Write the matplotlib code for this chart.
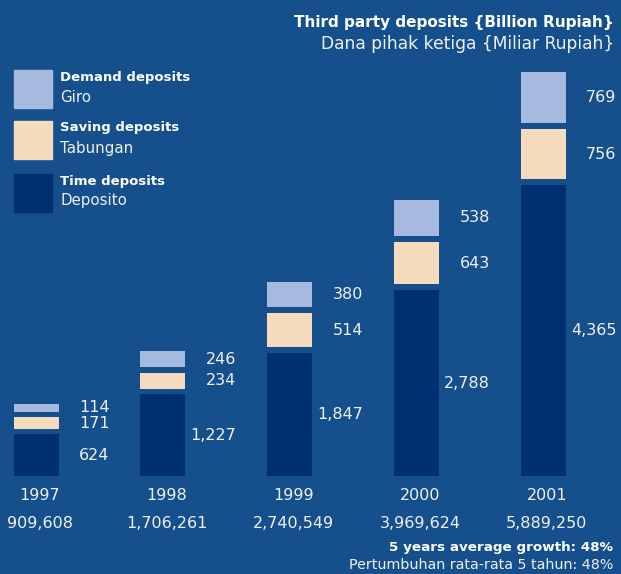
import matplotlib.pyplot as plt
from matplotlib.patches import Rectangle

# ── Data ───────────────────────────────────────────────────────
years    = ["1997", "1998", "1999", "2000", "2001"]
totals   = ["909,608", "1,706,261", "2,740,549", "3,969,624", "5,889,250"]
time_dep = [624, 1227, 1847, 2788, 4365]
saving   = [171, 234, 514, 643, 756]
demand   = [114, 246, 380, 538, 769]

# ── Style ──────────────────────────────────────────────────────
BG      = "#15508d"
C_TIME  = "#00306f"
C_SAVE  = "#f5dabe"
C_DEM   = "#a6b9de"
TXT     = "#f0f0f0"
GAP     = 85          # visual gap between stacked segments (data units)
plt.rcParams["font.family"] = ["DejaVu Sans"]

fig = plt.figure(figsize=(6.21, 5.74), dpi=100, facecolor=BG)
ax = fig.add_axes([0, 0, 1, 1])
ax.set_facecolor(BG)
ax.set_xlim(-0.284, 4.615)
ax.set_ylim(-98 * 15, 476 * 15)
ax.axis("off")

x = range(len(years))
w = 0.355
b_save = [t + GAP for t in time_dep]
b_dem = [t + GAP + s + GAP for t, s in zip(time_dep, saving)]

ax.bar(x, time_dep, width=w, color=C_TIME)
ax.bar(x, saving, bottom=b_save, width=w, color=C_SAVE)
ax.bar(x, demand, bottom=b_dem, width=w, color=C_DEM)

lab_kw = dict(ha="right", va="center", color=TXT, fontsize=11.5)
for i in x:
    lx = i + 0.58
    ax.text(lx, time_dep[i] / 2, f"{time_dep[i]:,}", **lab_kw)
    ax.text(lx, b_save[i] + saving[i] / 2, f"{saving[i]:,}", **lab_kw)
    ax.text(lx, b_dem[i] + demand[i] / 2, f"{demand[i]:,}", **lab_kw)
    ax.text(i + 0.03, -20 * 15, years[i], ha="center", va="center", color=TXT, fontsize=11.5)
    ax.text(i + 0.03, -47 * 15, totals[i], ha="center", va="center", color=TXT, fontsize=11.5)

# ── Titles ─────────────────────────────────────────────────────
fig.text(0.989, 1 - 22 / 574, "Third party deposits {Billion Rupiah}", ha="right", va="center",
         color="white", fontsize=11, fontweight="bold")
fig.text(0.989, 1 - 44 / 574, "Dana pihak ketiga {Miliar Rupiah}", ha="right", va="center",
         color=TXT, fontsize=12.3)

# ── Legend ─────────────────────────────────────────────────────
legend = [(C_DEM, "Demand deposits", "Giro", 70),
          (C_SAVE, "Saving deposits", "Tabungan", 121),
          (C_TIME, "Time deposits", "Deposito", 174)]
for col, en, idn, top in legend:
    fig.patches.append(Rectangle((14 / 621, 1 - (top + 38) / 574), 38 / 621, 38 / 574,
                                 transform=fig.transFigure, color=col))
    fig.text(60 / 621, 1 - (top + 7) / 574, en, ha="left", va="center",
             color="white", fontsize=9.5, fontweight="bold")
    fig.text(60 / 621, 1 - (top + 27) / 574, idn, ha="left", va="center",
             color=TXT, fontsize=10.8)

# ── Footer ─────────────────────────────────────────────────────
fig.text(0.987, 1 - 548 / 574, "5 years average growth: 48%", ha="right", va="center",
         color="white", fontsize=9.7, fontweight="bold")
fig.text(0.987, 1 - 565 / 574, "Pertumbuhan rata-rata 5 tahun: 48%", ha="right", va="center",
         color=TXT, fontsize=10.3)

fig.savefig("out.png", dpi=100, facecolor=BG)
